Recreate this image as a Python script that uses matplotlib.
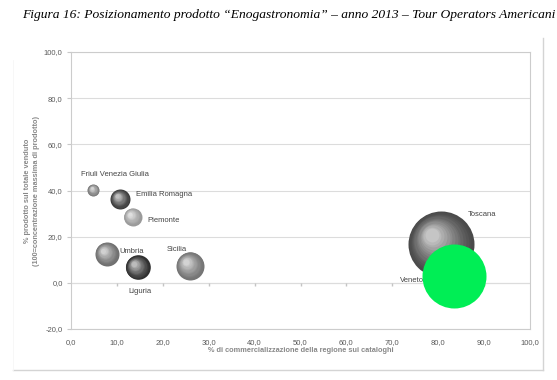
import numpy as np
import matplotlib
matplotlib.use('Agg')
import matplotlib.pyplot as plt
from matplotlib import transforms
from matplotlib.lines import Line2D
from matplotlib.colors import to_rgb

# data
regions = ['Friuli Venezia Giulia', 'Emilia Romagna', 'Piemonte', 'Umbria',
           'Liguria', 'Sicilia', 'Toscana', 'Veneto']
commerc = [4.9, 10.7, 13.4, 7.8, 14.5, 25.9, 80.6, 83.5]
prodotto = [40.2, 36.3, 28.6, 12.5, 6.7, 7.4, 16.8, 2.9]
bubble_r = [6, 10, 9, 12, 12.3, 14, 33, 32]   # radius in px
xticks = np.arange(0, 101, 10)
yticks = np.arange(-20, 101, 20)

# styles
colors = ['#7a7a7a', '#3a3a3a', '#9a9a9a', '#6e6e6e', '#2e2e2e', '#747474', '#4a4a4a', '#00ee55']
label_off = [(-9, 11), (11.5, 3.6), (11, -3), (8.9, 1.7), (-6.7, -17.6),
             (-16.6, 12), (19.4, 21.6), (-39, -3)]

plt.rcParams['font.family'] = ['Liberation Sans', 'DejaVu Sans']

fig = plt.figure(figsize=(5.57, 3.8), dpi=100)
ax = fig.add_axes([71/557, 1-329/380, (530-71)/557, (329-52)/380])

ax.set_xlim(0, 100)
ax.set_ylim(-20, 100)
ax.set_xticks(xticks)
ax.set_yticks(yticks)
ax.set_xticklabels([f'{v:.1f}'.replace('.', ',') for v in xticks])
ax.set_yticklabels([f'{v:.1f}'.replace('.', ',') for v in yticks])
ax.tick_params(axis='x', length=0, pad=7, labelsize=5.5, labelcolor='#5a5a5a')
ax.tick_params(axis='y', length=3, color='#c8c8c8', pad=3, labelsize=5.5, labelcolor='#5a5a5a')
for s in ax.spines.values():
    s.set_color('#cccccc')
    s.set_linewidth(0.8)
ax.grid(axis='y', color='#dcdcdc', linewidth=0.8)
ax.set_axisbelow(True)
# axis at zero with tick marks
ax.axhline(0, color='#cccccc', linewidth=0.8, zorder=0.5)
ax.plot(xticks[1:-1], np.zeros(len(xticks) - 2), linestyle='none', marker=3,
        markersize=2.5, color='#c4c4c4', zorder=0.6)

ax.set_xlabel('% di commercializzazione della regione sui cataloghi', fontsize=5.3,
              fontweight='bold', color='#888888', labelpad=1)
ax.set_ylabel('% prodotto sul totale venduto\n(100=concentrazione massima di prodotto)',
              fontsize=5.3, fontweight='bold', color='#888888', labelpad=3, linespacing=1.4)

# spheres
n = 14
for i in range(len(regions)):
    r = bubble_r[i] * 0.72
    base = np.array(to_rgb(colors[i]))
    if regions[i] == 'Veneto':
        ax.scatter(commerc[i], prodotto[i], s=(2 * r) ** 2, color=colors[i], zorder=5,
                   linewidths=0)
        continue
    for k in range(n):
        f = k / n
        tr = transforms.offset_copy(ax.transData, fig=fig, x=-0.3 * r * f, y=0.3 * r * f,
                                    units='points')
        c = base + (1 - base) * (f ** 1.3) * 0.75
        ax.scatter(commerc[i], prodotto[i], s=(2 * r * (1 - 0.85 * f)) ** 2, color=c,
                   transform=tr, linewidths=0, zorder=3 + i * 0.01)

for i in range(len(regions)):
    ax.annotate(regions[i], (commerc[i], prodotto[i]), xytext=label_off[i],
                textcoords='offset points', fontsize=5.5, color='#444444',
                ha='left', va='center', zorder=4)

fig.text(22/557, 1-15/380,
         'Figura 16: Posizionamento prodotto \u201cEnogastronomia\u201d \u2013 anno 2013 \u2013 Tour Operators Americani',
         family='Liberation Serif', style='italic', fontsize=9.7, va='center', ha='left')

# outer frame of the chart
fig.add_artist(Line2D([543/557, 543/557], [1-38/380, 1-370/380], color='#d4d4d4', lw=1))
fig.add_artist(Line2D([13/557, 543/557], [1-370/380, 1-370/380], color='#d4d4d4', lw=1))
fig.add_artist(Line2D([13/557, 13/557], [1-60/380, 1-370/380], color='#f6f6f6', lw=0.6))

fig.savefig('out.png', dpi=100)
